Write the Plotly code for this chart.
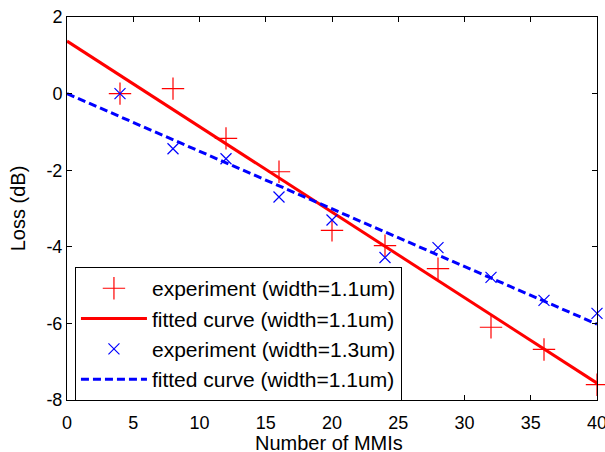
import plotly.graph_objects as go

x_exp = [4, 8, 12, 16, 20, 24, 28, 32, 36, 40]
loss_w11 = [0.0, 0.13, -1.17, -2.04, -3.57, -3.97, -4.57, -6.1, -6.68, -7.6]
loss_w13 = [0.0, -1.44, -1.7, -2.7, -3.3, -4.28, -4.02, -4.8, -5.4, -5.74]
x_fit = [0, 40]
fit_w11 = [1.37, -7.56]
fit_w13 = [0.0, -6.02]
x_ticks = [0, 5, 10, 15, 20, 25, 30, 35, 40]
y_ticks = [-8, -6, -4, -2, 0, 2]

font = "Liberation Sans, Arial, sans-serif"

fig = go.Figure()
fig.add_trace(go.Scatter(x=x_exp, y=loss_w11, mode="markers", name="experiment (width=1.1um)",
                         marker=dict(symbol="cross-thin-open", size=16, color="red",
                                     line=dict(color="red", width=1.2)), cliponaxis=False))
fig.add_trace(go.Scatter(x=x_fit, y=fit_w11, mode="lines", name="fitted curve (width=1.1um)",
                         line=dict(color="red", width=3)))
fig.add_trace(go.Scatter(x=x_exp, y=loss_w13, mode="markers", name="experiment (width=1.3um)",
                         marker=dict(symbol="x-thin-open", size=11, color="blue",
                                     line=dict(color="blue", width=1.2)), cliponaxis=False))
fig.add_trace(go.Scatter(x=x_fit, y=fit_w13, mode="lines", name="fitted curve (width=1.1um)",
                         line=dict(color="blue", width=3, dash="8px,4px")))

axis_common = dict(showgrid=False, zeroline=False, showline=True, linecolor="black", linewidth=1,
                   mirror="ticks", ticks="inside", ticklen=5, tickcolor="black",
                   ticklabeloverflow="allow",
                   tickfont=dict(size=18, color="black", family=font))

fig.update_xaxes(range=[0, 40], tickmode="array", tickvals=x_ticks, ticklabelstandoff=6,
                 **axis_common)
fig.update_yaxes(range=[-8, 2], tickmode="array", tickvals=y_ticks,
                 ticktext=[str(v) for v in y_ticks],
                 title=dict(text="Loss (dB)", font=dict(size=20, color="black", family=font)),
                 **axis_common)

fig.add_annotation(text="Number of MMIs", xref="paper", yref="paper", x=0.494, y=0,
                   xanchor="center", yanchor="middle", yshift=-43, showarrow=False,
                   font=dict(size=20, color="black", family=font))

fig.update_layout(
    width=605, height=452,
    margin=dict(l=67, r=8, t=17, b=52, autoexpand=False),
    plot_bgcolor="white", paper_bgcolor="white",
    font=dict(family=font, size=18, color="black"),
    showlegend=True,
    legend=dict(x=0.015, y=0.347, xanchor="left", yanchor="top",
                bgcolor="white", bordercolor="black", borderwidth=1,
                font=dict(size=21, family=font, color="black"),
                tracegroupgap=0, itemwidth=66),
)

fig.write_html(
    "out.html",
    config={"displayModeBar": False},
    post_script="document.body.style.margin='0';document.body.style.overflow='hidden';",
)
